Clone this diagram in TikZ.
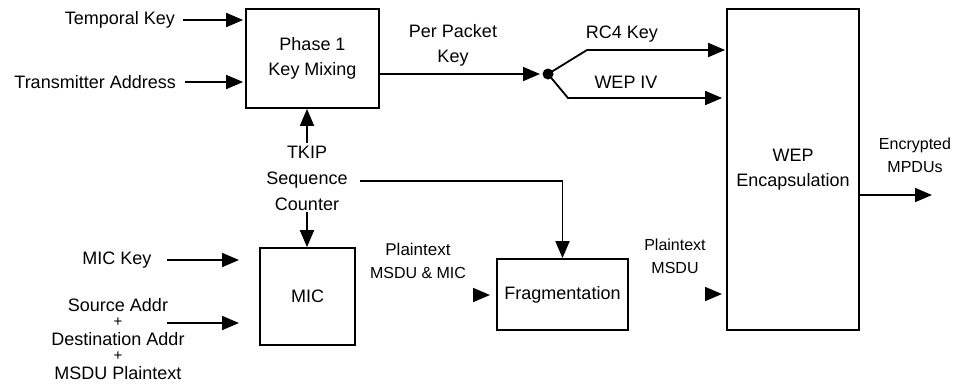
\documentclass[tikz,border=0pt]{standalone}
\usepackage{fontspec}
\setmainfont{Liberation Sans}
\usetikzlibrary{arrows.meta}
\begin{document}
\begin{tikzpicture}[x=1pt,y=-1pt,
  box/.style={draw,line width=1.8pt,inner sep=0pt,align=center,font=\fontsize{18}{25}\selectfont},
  lbl/.style={inner sep=0pt,align=center,font=\fontsize{18}{25}\selectfont},
  slbl/.style={inner sep=0pt,align=center,font=\fontsize{16}{23}\selectfont},
  plus/.style={inner sep=0pt,font=\fontsize{15}{15}\selectfont},
  arr/.style={line width=1.8pt,-{Triangle[length=17pt,width=14pt]}},
  conn/.style={line width=1.8pt}]
\useasboundingbox (0,0) rectangle (953,384);
% boxes
\node[box,minimum width=133pt,minimum height=99pt] (p1) at (312.5,58.5) {Phase 1\\Key Mixing};
\node[box,minimum width=132pt,minimum height=321pt] (wep) at (793,169.5) {WEP\\Encapsulation};
\node[box,minimum width=95pt,minimum height=97pt] (mic) at (307.5,296.5) {MIC};
\node[box,minimum width=131pt,minimum height=71pt] (frag) at (562.5,294.5) {Fragmentation};
% labels
\node[lbl,anchor=east] (tk) at (175,20) {Temporal Key};
\node[lbl,anchor=east] (ta) at (176,82) {Transmitter Address};
\node[lbl] (ppk) at (453,45) {Per Packet\\Key};
\node[lbl] (rc4) at (622,34) {RC4 Key};
\node[lbl] (wiv) at (626,82) {WEP IV};
\node[slbl] (emp) at (915,155) {Encrypted\\MPDUs};
\node[lbl,font=\fontsize{18}{26}\selectfont] (tsc) at (307,178) {TKIP\\Sequence\\Counter};
\node[lbl] (mk) at (117,260) {MIC Key};
\node[lbl] (src) at (118,305) {Source Addr};
\node[plus] (pl1) at (118,322) {+};
\node[lbl] (dst) at (118,339) {Destination Addr};
\node[plus] (pl2) at (118,356) {+};
\node[lbl] (msd) at (118,373) {MSDU Plaintext};
\node[slbl] (pmm) at (418,261) {\fontsize{17}{23}\selectfont Plaintext\\MSDU \& MIC};
\node[slbl] (pms) at (675,256) {Plaintext\\MSDU};
% coordinates
\coordinate (dot) at (548,74);
\coordinate (k1) at (587,50);
\coordinate (k2) at (568,98);
\coordinate (out) at (932,195);
\coordinate (tka) at (307,143);
\coordinate (tkb) at (307,212);
\coordinate (sq) at (360,181);
\coordinate (mkt) at (239,260);
\coordinate (sas) at (167,323);
\coordinate (sat) at (239,323);
\coordinate (pa1) at (473,295);
\coordinate (pa2) at (490,295);
\coordinate (pb1) at (705,294);
\coordinate (pb2) at (722,294);
% connectors
\draw[arr] ([xshift=8pt]tk.east) -- ([xshift=-2pt]tk.east -| p1.west);
\draw[arr] ([xshift=9pt]ta.east) -- ([xshift=-2pt]ta.east -| p1.west);
\draw[arr] (p1.east |- dot) -- ([xshift=-8pt]dot);
\fill (dot) circle (5.5pt);
\draw[arr] (dot) -- (k1) -- ([xshift=-1pt]k1 -| wep.west);
\draw[arr] (dot) -- (k2) -- ([xshift=-4pt]k2 -| wep.west);
\draw[arr] (wep.east |- out) -- (out);
\draw[arr] (tka) -- (tka |- p1.south);
\draw[arr] (tkb) -- (tkb |- mic.north);
\draw[arr] (sq) -- (sq -| frag.north) -- (frag.north);
\draw[arr] ([xshift=15pt]mk.east) -- (mkt);
\draw[arr] (sas) -- (sat);
\draw[arr] (pa1) -- (pa2);
\draw[arr] (pb1) -- (pb2);
\end{tikzpicture}
\end{document}
